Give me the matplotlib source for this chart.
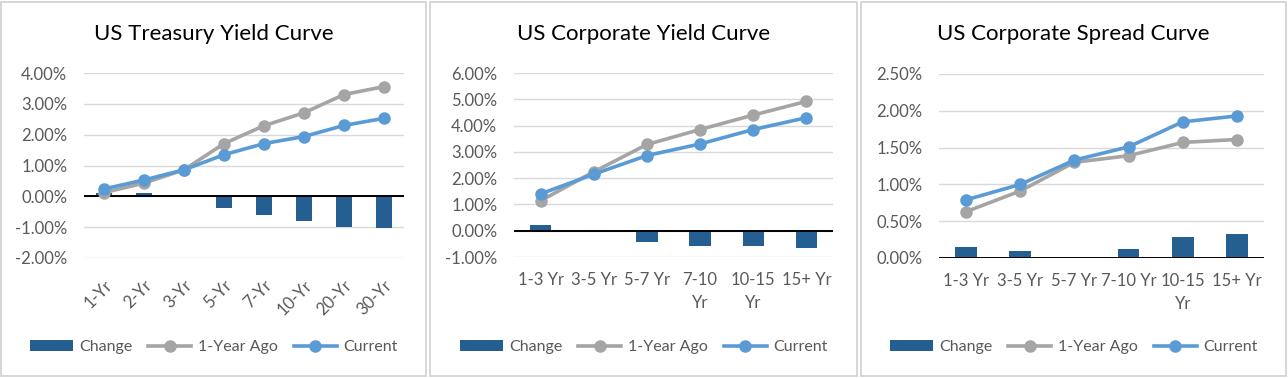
import matplotlib
matplotlib.use("Agg")
import matplotlib.pyplot as plt
from matplotlib.patches import Rectangle
from matplotlib.ticker import FuncFormatter, MultipleLocator

plt.rcParams['font.family'] = ['Lato', 'DejaVu Sans']

# --- data (percent) ---
tsy_cats = ['1-Yr', '2-Yr', '3-Yr', '5-Yr', '7-Yr', '10-Yr', '20-Yr', '30-Yr']
tsy_change = [0.12, 0.10, 0.0, -0.37, -0.60, -0.79, -1.00, -1.03]
tsy_ago = [0.12, 0.43, 0.86, 1.71, 2.29, 2.71, 3.30, 3.56]
tsy_current = [0.24, 0.53, 0.86, 1.35, 1.71, 1.94, 2.30, 2.53]

corp_cats = ['1-3 Yr', '3-5 Yr', '5-7 Yr', '7-10\nYr', '10-15\nYr', '15+ Yr']
corp_change = [0.20, -0.05, -0.43, -0.58, -0.58, -0.66]
corp_ago = [1.14, 2.24, 3.28, 3.85, 4.40, 4.92]
corp_current = [1.40, 2.15, 2.86, 3.30, 3.85, 4.30]

spread_cats = ['1-3 Yr', '3-5 Yr', '5-7 Yr', '7-10 Yr', '10-15\nYr', '15+ Yr']
spread_change = [0.15, 0.09, 0.0, 0.12, 0.28, 0.32]
spread_ago = [0.63, 0.91, 1.30, 1.39, 1.57, 1.61]
spread_current = [0.79, 1.00, 1.33, 1.51, 1.85, 1.93]

BAR_C = '#255E91'
AGO_C = '#A5A5A5'
CUR_C = '#5B9BD5'
TXT_C = '#595959'
W, H = 1288, 378

fig = plt.figure(figsize=(W / 100, H / 100), dpi=100)


def px_axes(left, top, right, bottom):
    return fig.add_axes([left / W, 1 - bottom / H, (right - left) / W, (bottom - top) / H])


def draw_panel(box, plot_box, title, cats, change, ago, current, ylim, step, rotate=False):
    # panel border
    x0, x1 = box
    fig.patches.append(Rectangle((x0 / W, 2 / H), (x1 - x0) / W, (H - 4) / H,
                                 transform=fig.transFigure, fill=False,
                                 edgecolor='#D0D0D0', lw=1.2))
    ax = px_axes(*plot_box)
    x = list(range(len(cats)))
    bars = ax.bar(x, change, width=0.4, color=BAR_C, zorder=2, label='Change')
    l1, = ax.plot(x, ago, color=AGO_C, lw=2.6, marker='o', ms=8, zorder=3, label='1-Year Ago')
    l2, = ax.plot(x, current, color=CUR_C, lw=2.6, marker='o', ms=8, zorder=4, label='Current')
    ax.axhline(0, color='black', lw=1.4, zorder=2.5)
    ax.set_xlim(-0.5, len(cats) - 0.5)
    ax.set_ylim(*ylim)
    ax.yaxis.set_major_locator(MultipleLocator(step))
    ax.yaxis.set_major_formatter(FuncFormatter(lambda v, p: f'{v:.2f}%'))
    ax.grid(axis='y', color='#D9D9D9', lw=1, zorder=0)
    ax.set_axisbelow(True)
    for s in ax.spines.values():
        s.set_visible(False)
    ax.tick_params(length=0, labelsize=12, labelcolor=TXT_C)
    ax.tick_params(axis='y', pad=12)
    ax.set_xticks(x)
    if rotate:
        ax.set_xticklabels(cats, rotation=45, ha='right', rotation_mode='anchor')
        ax.tick_params(axis='x', pad=14)
    else:
        ax.set_xticklabels(cats, linespacing=1.5)
        ax.tick_params(axis='x', pad=11)
    cx = (x0 + x1) / 2 / W
    fig.text(cx, 1 - 34 / H, title, ha='center', va='center', fontsize=16, color='black')
    fig.legend([bars, l1, l2], ['Change', '1-Year Ago', 'Current'], loc='center',
               bbox_to_anchor=(cx, 1 - 347 / H), ncol=3, frameon=False, fontsize=11.5,
               handlelength=2.7, handletextpad=0.4, columnspacing=1.0,
               labelcolor=TXT_C)
    return ax


draw_panel((1, 426), (84, 73, 404, 258), 'US Treasury Yield Curve',
           tsy_cats, tsy_change, tsy_ago, tsy_current, (-2, 4), 1, rotate=True)
draw_panel((430, 857), (514, 73, 833, 257), 'US Corporate Yield Curve',
           corp_cats, corp_change, corp_ago, corp_current, (-1, 6), 1)
draw_panel((861, 1286), (939, 74, 1264, 258), 'US Corporate Spread Curve',
           spread_cats, spread_change, spread_ago, spread_current, (0, 2.5), 0.5)

fig.savefig('out.png', dpi=100, facecolor='white')
